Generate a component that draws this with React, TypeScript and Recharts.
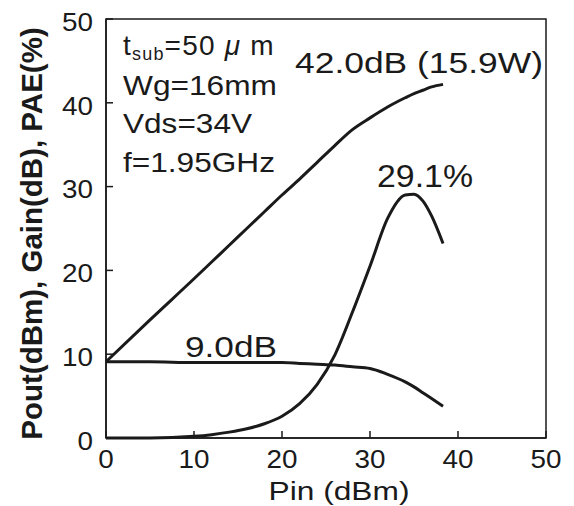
import { LineChart, Line, XAxis, YAxis, Label } from "recharts";

// Pin (dBm) sample points
const pin = [0, 5, 10, 12, 14, 16, 18, 20, 22, 24, 26, 28, 30, 32, 34, 35, 36, 37, 38.3];
const pout = [9.1, 14.1, 19.0, 21.0, 23.0, 25.0, 27.0, 29.0, 30.9, 32.9, 34.9, 36.8, 38.2, 39.5, 40.6, 41.1, 41.5, 41.9, 42.2];
const gain = [9.1, 9.1, 9.0, 9.0, 9.0, 9.0, 9.0, 9.0, 8.9, 8.8, 8.7, 8.5, 8.3, 7.6, 6.7, 6.1, 5.4, 4.7, 3.8];
const pae = [0, 0, 0.2, 0.4, 0.7, 1.1, 1.7, 2.6, 4.1, 6.4, 9.9, 15.0, 20.5, 26.2, 29.0, 29.1, 28.3, 26.5, 23.2];

const xTicks = [0, 10, 20, 30, 40, 50];
const yTicks = [0, 10, 20, 30, 40, 50];

const data = pin.map((p, i) => ({ pin: p, pout: pout[i], gain: gain[i], pae: pae[i] }));

const FONT = '"Liberation Sans", Arial, sans-serif';
const INK = "#1a1a1a";
const DIGIT_W = 15.5; // scanned lettering is wider than Arial
const TICK_IN = 7;

const W = 574;
const H = 506;
const MARGIN = { top: 19, right: 28, bottom: 0, left: 0 };
const Y_AXIS_W = 106;
const X_AXIS_H = 68;

// tick label plus a short inward tick mark
function XTick({ x, y, payload }: any) {
  const s = String(payload.value);
  const axisY = y - 12;
  return (
    <g>
      <line x1={x} y1={axisY} x2={x} y2={axisY - TICK_IN} stroke={INK} strokeWidth={1.5} />
      <text x={x} y={y} dy="0.71em" textAnchor="middle" fill={INK} fontSize={25} fontFamily={FONT}
        textLength={s.length * DIGIT_W} lengthAdjust="spacingAndGlyphs">
        {s}
      </text>
    </g>
  );
}

function YTick({ x, y, payload }: any) {
  const s = String(payload.value);
  const axisX = x + 13;
  return (
    <g>
      <line x1={axisX} y1={y} x2={axisX + TICK_IN} y2={y} stroke={INK} strokeWidth={1.5} />
      <text x={x} y={y + 3} dy="0.355em" textAnchor="end" fill={INK} fontSize={25} fontFamily={FONT}
        textLength={s.length * DIGIT_W} lengthAdjust="spacingAndGlyphs">
        {s}
      </text>
    </g>
  );
}

export default function App() {
  // plot box, same numbers the chart lays itself out with
  const box = {
    x: MARGIN.left + Y_AXIS_W,
    y: MARGIN.top,
    w: W - MARGIN.left - Y_AXIS_W - MARGIN.right,
    h: H - MARGIN.top - X_AXIS_H - MARGIN.bottom,
  };

  return (
    <div style={{ position: "absolute", left: 0, top: 0, width: W, height: H, background: "#fff" }}>
      <LineChart width={W} height={H} data={data} margin={MARGIN}>
        <XAxis
          type="number"
          dataKey="pin"
          domain={[0, 50]}
          ticks={xTicks}
          height={X_AXIS_H}
          stroke={INK}
          strokeWidth={1.5}
          tickLine={false}
          tickSize={0}
          tickMargin={12}
          tick={<XTick />}
        >
          <Label value="Pin (dBm)" position="insideBottom" offset={6} dx={13} fill={INK} fontSize={26}
            fontFamily={FONT} textLength={141} lengthAdjust="spacingAndGlyphs" />
        </XAxis>
        <YAxis
          type="number"
          domain={[0, 50]}
          ticks={yTicks}
          width={Y_AXIS_W}
          stroke={INK}
          strokeWidth={1.5}
          tickLine={false}
          tickSize={0}
          tickMargin={13}
          tick={<YTick />}
        >
          <Label
            value="Pout(dBm), Gain(dB), PAE(%)"
            angle={-90}
            position="insideLeft"
            offset={32}
            dy={5}
            fill={INK}
            fontSize={29.5}
            fontWeight="bold"
            fontFamily={FONT}
            style={{ textAnchor: "middle" }}
          />
        </YAxis>
        <Line type="monotone" dataKey="pout" stroke={INK} strokeWidth={3} dot={false} isAnimationActive={false} />
        <Line type="monotone" dataKey="gain" stroke={INK} strokeWidth={3} dot={false} isAnimationActive={false} />
        <Line type="monotone" dataKey="pae" stroke={INK} strokeWidth={3} dot={false} isAnimationActive={false} />
      </LineChart>
      <svg
        width={W}
        height={H}
        style={{ position: "absolute", left: 0, top: 0, pointerEvents: "none" }}
        fontFamily={FONT}
        fill={INK}
      >
        <rect x={box.x} y={box.y} width={box.w} height={box.h} fill="none" stroke={INK} strokeWidth={1.5} />
        <text x={123} y={55} fontSize={28} letterSpacing={1.2}>
          t<tspan fontSize={18} dy={5}>sub</tspan>
          <tspan dy={-5}>=50 </tspan>
          <tspan fontStyle="italic">μ</tspan> m
        </text>
        <text x={123} y={95} fontSize={28} textLength={154} lengthAdjust="spacingAndGlyphs">Wg=16mm</text>
        <text x={123} y={133} fontSize={28} textLength={129} lengthAdjust="spacingAndGlyphs">Vds=34V</text>
        <text x={123} y={172} fontSize={28} textLength={152} lengthAdjust="spacingAndGlyphs">f=1.95GHz</text>
        <text x={295} y={73} fontSize={29} textLength={248} lengthAdjust="spacingAndGlyphs">42.0dB (15.9W)</text>
        <text x={377} y={187} fontSize={31} textLength={96} lengthAdjust="spacingAndGlyphs">29.1%</text>
        <text x={185} y={357} fontSize={30} textLength={92} lengthAdjust="spacingAndGlyphs">9.0dB</text>
      </svg>
    </div>
  );
}
